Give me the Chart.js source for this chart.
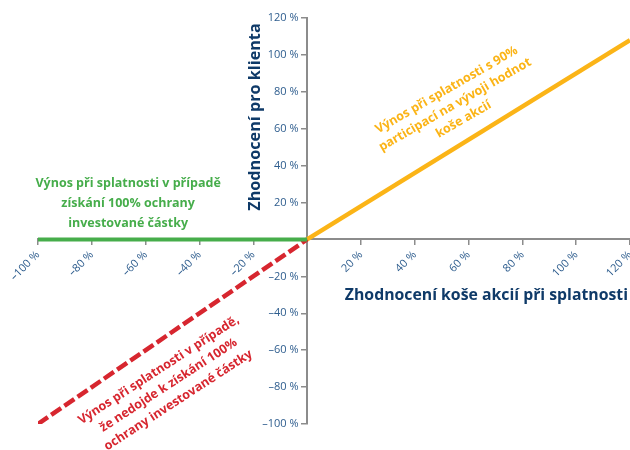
<!DOCTYPE html>
<html>
<head>
<meta charset="utf-8">
<script src="https://cdn.jsdelivr.net/npm/chart.js@4"></script>
<style>
  html, body { margin: 0; padding: 0; background: #fff; }
  #wrap { width: 630px; height: 450px; }
</style>
</head>
<body>
<div id="wrap"><canvas id="chart"></canvas></div>
<script>
// hodnoty (v %)
const xTicks = [-100, -80, -60, -40, -20, 0, 20, 40, 60, 80, 100, 120];
const yTicks = [-100, -80, -60, -40, -20, 0, 20, 40, 60, 80, 100, 120];

const protectX = [-100, 0];
const protectY = [0, 0];
const lossX = [-100, 0];
const lossY = [-100, 0];
const partX = [0, 120];
const partY = [0, 108];

const xTitle = 'Zhodnocení koše akcií při splatnosti';
const yTitle = 'Zhodnocení pro klienta';
const greenText = ['Výnos při splatnosti v případě', 'získání 100% ochrany', 'investované částky'];
const orangeText = ['Výnos při splatnosti s 90%', 'participací na vývoji hodnot', 'koše akcií'];
const redText = ['Výnos při splatnosti v případě,', 'že nedojde k získání 100%', 'ochrany investované částky'];

const FONT = '"Open Sans", "DejaVu Sans", sans-serif';
const NAVY = '#0f3a68';
const TICK = '#2e5d8e';
const AXIS = '#8c8c8c';

function pts(xs, ys) {
    return xs.map((x, i) => ({ x: x, y: ys[i] }));
}

function fmt(v) {
    if (v === 0) return '';
    return (v < 0 ? '\u2013' + Math.abs(v) : v) + ' %';
}

// popisky a názvy os
const labelsPlugin = {
    id: 'labels',
    afterDraw(chart) {
        const ctx = chart.ctx;
        const sx = chart.scales.x;
        const sy = chart.scales.y;

        function block(lines, x, y, angle, color, size, gap) {
            ctx.save();
            ctx.translate(sx.getPixelForValue(x), sy.getPixelForValue(y));
            ctx.rotate(angle * Math.PI / 180);
            ctx.fillStyle = color;
            ctx.font = 'bold ' + size + 'px ' + FONT;
            ctx.textAlign = 'center';
            ctx.textBaseline = 'middle';
            const off = (lines.length - 1) / 2;
            lines.forEach((t, i) => ctx.fillText(t, 0, (i - off) * gap));
            ctx.restore();
        }

        block(greenText, -66.5, 19.5, 0, '#46ad4b', 12.5, 20);
        block(orangeText, 55, 73, -30, '#fbb417', 12.5, 17);
        block(redText, -51.5, -79, -33, '#d7262f', 12.5, 18);

        ctx.save();
        ctx.fillStyle = NAVY;
        ctx.font = 'bold 15.8px ' + FONT;
        ctx.textAlign = 'right';
        ctx.textBaseline = 'middle';
        ctx.fillText(xTitle, 628, 295);
        ctx.font = 'bold 16.2px ' + FONT;
        ctx.translate(255, 117);
        ctx.rotate(-Math.PI / 2);
        ctx.textAlign = 'center';
        ctx.fillText(yTitle, 0, 0);
        ctx.restore();
    }
};

const axisCommon = {
    type: 'linear',
    grid: { drawOnChartArea: false, color: AXIS, lineWidth: 1.5, tickLength: 5 },
    border: { color: AXIS, width: 2 },
    // bez automatického okraje pro krajní popisky (v originále je 120 % uříznuté)
    afterFit: s => { s.paddingLeft = 0; s.paddingRight = 0; s.paddingTop = 0; s.paddingBottom = 0; }
};

new Chart(document.getElementById('chart'), {
    type: 'scatter',
    data: {
        datasets: [
            { label: 'ochrana', data: pts(protectX, protectY), showLine: true, borderColor: '#46ad4b', borderWidth: 4, pointRadius: 0 },
            { label: 'ztráta', data: pts(lossX, lossY), showLine: true, borderColor: '#d7262f', borderWidth: 4.5, borderDash: [12, 4], pointRadius: 0 },
            { label: 'participace', data: pts(partX, partY), showLine: true, borderColor: '#fbb417', borderWidth: 4.5, pointRadius: 0 }
        ]
    },
    options: {
        responsive: true,
        maintainAspectRatio: false,
        animation: false,
        layout: { padding: { left: 38, right: 0, top: 18, bottom: 26 } },
        plugins: { legend: { display: false }, tooltip: { enabled: false } },
        scales: {
            x: Object.assign({}, axisCommon, {
                min: -100, max: 120,
                position: { y: 0 },
                afterBuildTicks: s => { s.ticks = xTicks.map(v => ({ value: v })); },
                ticks: { color: TICK, font: { family: FONT, size: 11 }, minRotation: 45, maxRotation: 45, padding: 4, callback: fmt }
            }),
            y: Object.assign({}, axisCommon, {
                min: -100, max: 120,
                position: { x: 0 },
                afterBuildTicks: s => { s.ticks = yTicks.map(v => ({ value: v })); },
                // popisky jsou zarovnané přímo k ose, mezery je odsunou doleva
                ticks: { color: TICK, font: { family: FONT, size: 11 }, callback: v => v === 0 ? '' : fmt(v) + '   ' }
            })
        }
    },
    plugins: [labelsPlugin]
});
</script>
</body>
</html>
